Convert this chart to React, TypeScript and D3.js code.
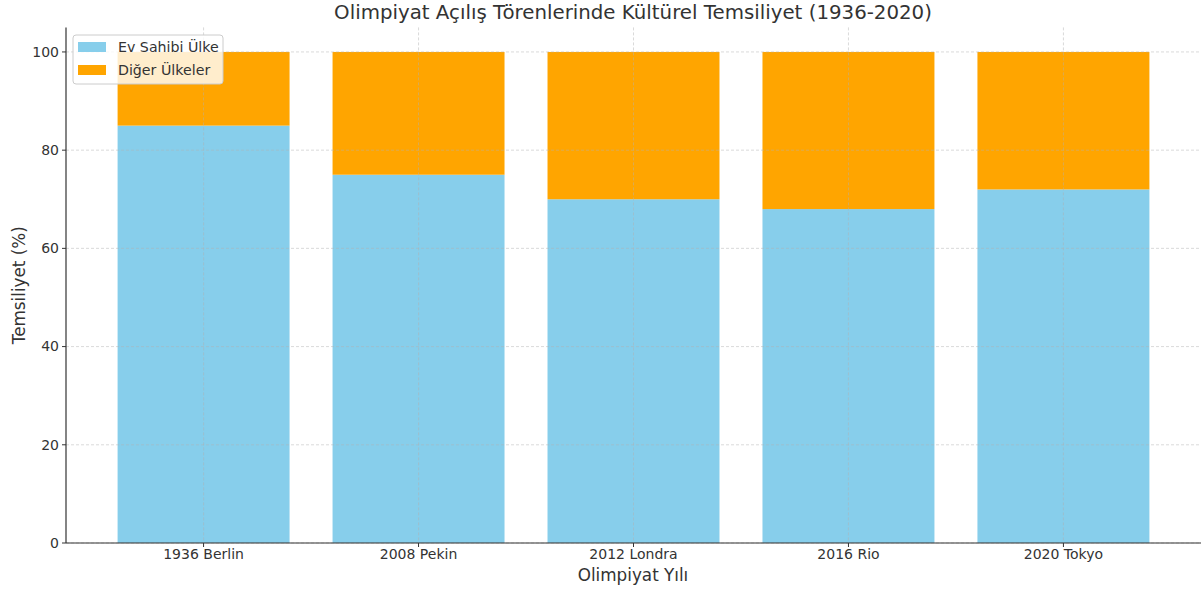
import React from "react";
import * as d3 from "d3";

const categories = ["1936 Berlin", "2008 Pekin", "2012 Londra", "2016 Rio", "2020 Tokyo"];
const hostValues = [85, 75, 70, 68, 72];
const otherValues = [15, 25, 30, 32, 28];
const yTicks = [0, 20, 40, 60, 80, 100];
const seriesNames = ["Ev Sahibi Ülke", "Diğer Ülkeler"];
const seriesColors = ["#87CEEB", "#FFA500"];

const W = 1201;
const H = 590;
const M = { left: 66, right: 0, top: 27.4, bottom: 47 };
const FONT = "DejaVu Sans, sans-serif";
const TXT = "#333333";

export default function App() {
  const x = d3
    .scaleLinear()
    .domain([-0.64, categories.length - 1 + 0.64])
    .range([M.left, W - M.right]);
  const y = d3.scaleLinear().domain([0, 105]).range([H - M.bottom, M.top]);
  const bw = x(0.4) - x(-0.4);
  const grid = "#b0b0b0";

  return (
    <svg
      width={W}
      height={H}
      style={{ position: "absolute", left: 0, top: 0, background: "#fff" }}
      fontFamily={FONT}
    >
      {categories.map((c, i) => (
        <g key={c}>
          <rect
            x={x(i) - bw / 2}
            y={y(hostValues[i])}
            width={bw}
            height={y(0) - y(hostValues[i])}
            fill={seriesColors[0]}
          />
          <rect
            x={x(i) - bw / 2}
            y={y(hostValues[i] + otherValues[i])}
            width={bw}
            height={y(hostValues[i]) - y(hostValues[i] + otherValues[i])}
            fill={seriesColors[1]}
          />
        </g>
      ))}
      {yTicks.map((t) => (
        <line
          key={"gy" + t}
          x1={M.left}
          x2={W - M.right}
          y1={y(t)}
          y2={y(t)}
          stroke={grid}
          strokeOpacity={0.6}
          strokeDasharray="3,2"
          strokeWidth={0.8}
        />
      ))}
      {categories.map((c, i) => (
        <line
          key={"gx" + c}
          x1={x(i)}
          x2={x(i)}
          y1={M.top}
          y2={H - M.bottom}
          stroke={grid}
          strokeOpacity={0.6}
          strokeDasharray="3,2"
          strokeWidth={0.8}
        />
      ))}
      <line x1={M.left} x2={M.left} y1={M.top} y2={H - M.bottom} stroke={TXT} strokeWidth={1.2} />
      <line x1={M.left} x2={W} y1={H - M.bottom} y2={H - M.bottom} stroke={TXT} strokeWidth={1.2} />
      {yTicks.map((t) => (
        <g key={"yt" + t}>
          <line x1={M.left - 4} x2={M.left} y1={y(t)} y2={y(t)} stroke={TXT} strokeWidth={1} />
          <text x={M.left - 7} y={y(t)} dy="0.35em" textAnchor="end" fontSize={14} fill={TXT}>
            {t}
          </text>
        </g>
      ))}
      {categories.map((c, i) => (
        <g key={"xt" + c}>
          <line x1={x(i)} x2={x(i)} y1={H - M.bottom} y2={H - M.bottom + 4} stroke={TXT} strokeWidth={1} />
          <text x={x(i)} y={559} textAnchor="middle" fontSize={14} fill={TXT}>
            {c}
          </text>
        </g>
      ))}
      <text x={633} y={19} textAnchor="middle" fontSize={19.8} fill={TXT}>
        Olimpiyat Açılış Törenlerinde Kültürel Temsiliyet (1936-2020)
      </text>
      <text x={633} y={581} textAnchor="middle" fontSize={16.8} fill={TXT}>
        Olimpiyat Yılı
      </text>
      <text
        transform={`translate(25,${(M.top + H - M.bottom) / 2}) rotate(-90)`}
        textAnchor="middle"
        fontSize={16.8}
        fill={TXT}
      >
        Temsiliyet (%)
      </text>
      <g>
        <rect
          x={73}
          y={35}
          width={150}
          height={49}
          rx={3}
          fill="#ffffff"
          fillOpacity={0.8}
          stroke="#cccccc"
          strokeWidth={1}
        />
        {seriesNames.map((s, i) => (
          <g key={s}>
            <rect x={78} y={42 + i * 23} width={28} height={10} fill={seriesColors[i]} />
            <text x={118} y={47 + i * 23} dy="0.35em" fontSize={14.2} fill={TXT}>
              {s}
            </text>
          </g>
        ))}
      </g>
    </svg>
  );
}
